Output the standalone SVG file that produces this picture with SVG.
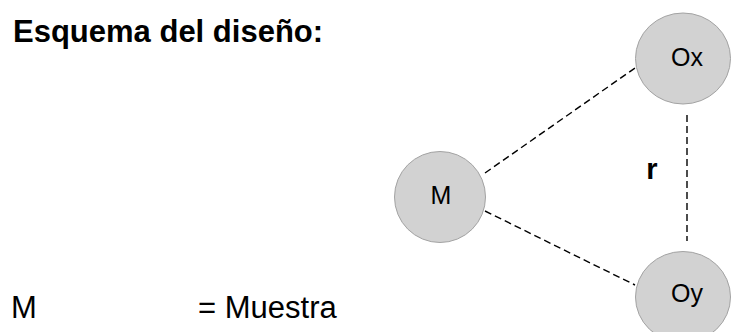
<svg xmlns="http://www.w3.org/2000/svg" width="731" height="332" viewBox="0 0 731 332">
<style>
.node{fill:#d2d2d2;stroke:#a3a3a3;stroke-width:1}
.lbl{font-family:"Liberation Sans",Arial,sans-serif;font-size:25px;fill:#000;text-anchor:middle}
.conn{stroke:#000;stroke-width:1.4;stroke-dasharray:7,4;fill:none}
.txt{font-family:"Liberation Sans",Arial,sans-serif;font-size:31px;fill:#000}
</style>
<rect width="731" height="332" fill="#fff"/>
<text class="txt" x="13" y="42" font-size="32" font-weight="bold">Esquema del diseño:</text>
<text class="txt" x="11" y="318">M</text>
<text class="txt" x="198" y="318">= Muestra</text>
<g id="connectors">
<line class="conn" x1="485" y1="173" x2="635" y2="68"/>
<line class="conn" x1="485" y1="211" x2="635" y2="285"/>
<line class="conn" x1="687" y1="115" x2="687" y2="241"/>
<text x="652" y="179" font-family="Liberation Sans,Arial,sans-serif" font-size="29" font-weight="bold" text-anchor="middle">r</text>
</g>
<g id="node-M">
<ellipse class="node" cx="440" cy="197" rx="45.5" ry="45.5"/>
<text class="lbl" x="441" y="204">M</text>
</g>
<g id="node-Ox">
<ellipse class="node" cx="683" cy="58.5" rx="47.5" ry="45.5"/>
<text class="lbl" x="687" y="66">Ox</text>
</g>
<g id="node-Oy">
<ellipse class="node" cx="683" cy="297" rx="47.5" ry="45.5"/>
<text class="lbl" x="687" y="302">Oy</text>
</g>
</svg>
